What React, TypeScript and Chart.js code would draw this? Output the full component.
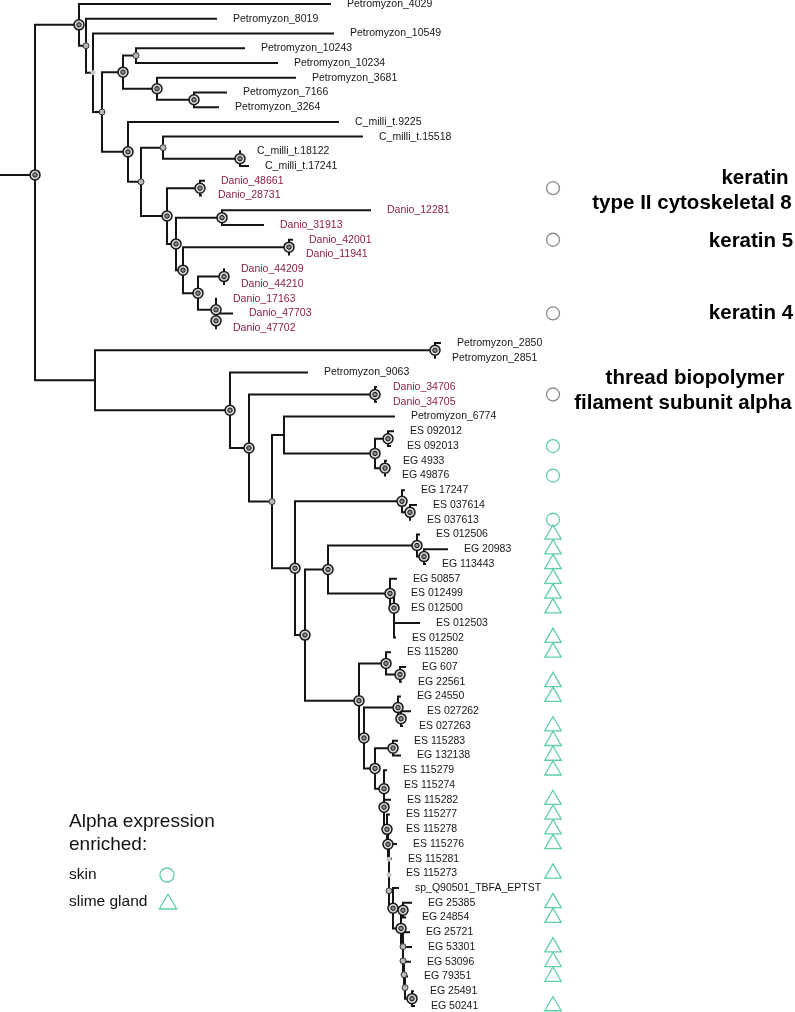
import { useEffect, useRef } from 'react';
import { Chart, registerables } from 'chart.js';
Chart.register(...registerables);

// ---- leaves (top to bottom) ----
const LEAF_NAMES = [
  'Petromyzon_4029', 'Petromyzon_8019', 'Petromyzon_10549', 'Petromyzon_10243', 'Petromyzon_10234',
  'Petromyzon_3681', 'Petromyzon_7166', 'Petromyzon_3264', 'C_milli_t.9225', 'C_milli_t.15518',
  'C_milli_t.18122', 'C_milli_t.17241', 'Danio_48661', 'Danio_28731', 'Danio_12281',
  'Danio_31913', 'Danio_42001', 'Danio_11941', 'Danio_44209', 'Danio_44210',
  'Danio_17163', 'Danio_47703', 'Danio_47702', 'Petromyzon_2850', 'Petromyzon_2851',
  'Petromyzon_9063', 'Danio_34706', 'Danio_34705', 'Petromyzon_6774', 'ES 092012',
  'ES 092013', 'EG 4933', 'EG 49876', 'EG 17247', 'ES 037614',
  'ES 037613', 'ES 012506', 'EG 20983', 'EG 113443', 'EG 50857',
  'ES 012499', 'ES 012500', 'ES 012503', 'ES 012502', 'ES 115280',
  'EG 607', 'EG 22561', 'EG 24550', 'ES 027262', 'ES 027263',
  'ES 115283', 'EG 132138', 'ES 115279', 'ES 115274', 'ES 115282',
  'ES 115277', 'ES 115278', 'ES 115276', 'ES 115281', 'ES 115273',
  'sp_Q90501_TBFA_EPTST', 'EG 25385', 'EG 24854', 'EG 25721', 'EG 53301',
  'EG 53096', 'EG 79351', 'EG 25491', 'EG 50241',
];

// tip depth (branch end) of every leaf
const LEAF_X = [
  330, 216, 333, 244, 277, 295, 226, 218, 338, 362,
  240, 248, 204, 201, 370, 263, 292, 289, 224, 224,
  216, 232, 216, 440, 435, 307, 376, 376, 394, 393,
  390, 386, 385, 404, 416, 410, 419, 447, 425, 396,
  394, 394, 419, 395, 390, 405, 401, 400, 410, 402,
  397, 400, 386, 387, 390, 389, 389, 396, 391, 389,
  398, 411, 405, 409, 411, 410, 407, 413, 414,
];

// ---- internal nodes ----
const NODE_X = [
  35, 79, 86, 93, 102, 123, 136, 157, 194, 128,
  141, 163, 240, 167, 200, 176, 222, 183, 289, 198,
  224, 216, 216, 95, 435, 230, 249, 375, 272, 284,
  375, 388, 385, 295, 402, 410, 305, 328, 417, 424,
  390, 394, 394, 359, 386, 400, 364, 398, 401, 375,
  393, 384, 384, 387, 388, 389, 389, 389, 393, 401,
  403, 403, 403, 404, 405, 412,
];

// children: "L#" = leaf, "#" = internal node
const NODE_KIDS = [
  '1 23', 'L0 2', 'L1 3', 'L2 4', '5 9', '6 7', 'L3 L4', 'L5 8', 'L6 L7', 'L8 10',
  '11 13', 'L9 12', 'L10 L11', '14 15', 'L12 L13', '16 17', 'L14 L15', '18 19', 'L16 L17', '20 21',
  'L18 L19', 'L20 22', 'L21 L22', '24 25', 'L23 L24', 'L25 26', '27 28', 'L26 L27', '29 33', 'L28 30',
  '31 32', 'L29 L30', 'L31 L32', '34 36', 'L33 35', 'L34 L35', '37 43', '38 40', 'L36 39', 'L37 L38',
  'L39 41', 'L40 42', 'L41 L42 L43', '44 46', 'L44 45', 'L45 L46', '47 49', 'L47 48', 'L48 L49', '50 51',
  'L50 L51', 'L52 52', 'L53 L54 53', 'L55 54', 'L56 55', 'L57 56', 'L58 57', 'L59 58', 'L60 59', '60 61',
  'L61 L62', 'L63 62', 'L64 63', 'L65 64', 'L66 65', 'L67 L68',
];

// node support marker: B = strong (double ring), S = small dot, G = faint dot, - = none
const NODE_MARK = [
  'B', 'B', 'S', 'G', 'S', 'B', 'S', 'B', 'B', 'B',
  'S', 'S', 'B', 'B', 'B', 'B', 'B', 'B', 'B', 'B',
  'B', 'B', 'B', '-', 'B', 'B', 'B', 'B', 'S', '-',
  'B', 'B', 'B', 'B', 'B', 'B', 'B', 'B', 'B', 'B',
  'B', 'B', '-', 'B', 'B', 'B', 'B', 'B', 'B', 'B',
  'B', 'B', 'B', 'B', 'B', 'G', 'G', 'S', 'B', 'B',
  'B', 'S', 'S', 'S', 'S', 'B',
];

const ROOT_Y = 11.6; // root drawn in leaf-row units
const ROOT_STEM_X = 0;

// ---- right-hand marker column ----
const MARK_COLUMN_X = 553;
const KERATIN_ROWS = [12.5, 16, 21, 26.5];
const SKIN_ROWS = [30, 32, 35];
const GLAND_ROWS = [36, 37, 38, 39, 40, 41, 43, 44, 46, 47, 49, 50, 51, 52, 54, 55, 56, 57, 59, 61, 62, 64, 65, 66, 68];

const ANNOTATION_LINES = ['keratin', 'type II cytoskeletal 8', 'keratin 5', 'keratin 4', 'thread biopolymer', 'filament subunit alpha'];
const LEGEND_TITLE = ['Alpha expression', 'enriched:'];
const LEGEND_ITEMS = ['skin', 'slime gland'];

const GREEN = '#5fcfaa';
const DANIO_RED = '#8e1f45';
const FONT = '"Liberation Sans", Arial, Helvetica, sans-serif';

function buildTree() {
  const kids = NODE_KIDS.map((s) =>
    s.split(' ').map((t) => (t[0] === 'L' ? { leaf: +t.slice(1) } : { node: +t }))
  );
  const nodeY: number[] = new Array(NODE_X.length);
  const yOf = (r: any): number => (r.leaf !== undefined ? r.leaf : calc(r.node));
  const calc = (i: number): number => {
    if (nodeY[i] !== undefined) return nodeY[i];
    const ys = kids[i].map(yOf);
    nodeY[i] = (ys[0] + ys[ys.length - 1]) / 2;
    return nodeY[i];
  };
  calc(0);
  nodeY[0] = ROOT_Y;
  const xOf = (r: any) => (r.leaf !== undefined ? LEAF_X[r.leaf] : NODE_X[r.node]);
  const seg: any[] = [];
  const gap = { x: null, y: null };
  seg.push({ x: ROOT_STEM_X, y: ROOT_Y }, { x: NODE_X[0], y: ROOT_Y }, gap);
  kids.forEach((ks, i) => {
    const ys = ks.map(yOf);
    seg.push({ x: NODE_X[i], y: ys[0] }, { x: NODE_X[i], y: ys[ys.length - 1] }, gap);
    ks.forEach((k, j) => {
      seg.push({ x: NODE_X[i], y: ys[j] }, { x: xOf(k), y: ys[j] }, gap);
    });
  });
  const pts = (m: string) =>
    NODE_X.map((x, i) => ({ x, y: nodeY[i], m: NODE_MARK[i] })).filter((p) => p.m === m).map((p) => ({ x: p.x, y: p.y }));
  return { seg, big: pts('B'), small: pts('S'), faint: pts('G') };
}

const textPlugin = {
  id: 'treeText',
  afterDatasetsDraw(chart: any) {
    const { ctx } = chart;
    const xs = chart.scales.x;
    const ys = chart.scales.y;
    ctx.save();
    ctx.textBaseline = 'middle';
    ctx.textAlign = 'left';
    ctx.font = `10.5px ${FONT}`;
    LEAF_NAMES.forEach((n, i) => {
      ctx.fillStyle = n.startsWith('Danio') ? DANIO_RED : '#161616';
      ctx.fillText(n, xs.getPixelForValue(LEAF_X[i]) + 17, ys.getPixelForValue(i));
    });
    // annotations
    ctx.fillStyle = '#000';
    ctx.font = `bold 20.5px ${FONT}`;
    ctx.textAlign = 'center';
    const annPos = [[755, 178], [692, 203], [751, 241], [751, 313], [695, 378], [683, 403]];
    ANNOTATION_LINES.forEach((t, i) => ctx.fillText(t, annPos[i][0], annPos[i][1]));
    // legend
    ctx.textAlign = 'left';
    ctx.fillStyle = '#111';
    ctx.font = `19px ${FONT}`;
    ctx.fillText(LEGEND_TITLE[0], 69, 822);
    ctx.fillText(LEGEND_TITLE[1], 69, 845);
    ctx.font = `15.5px ${FONT}`;
    ctx.fillText(LEGEND_ITEMS[0], 69, 875);
    ctx.fillText(LEGEND_ITEMS[1], 69, 902);
    ctx.strokeStyle = GREEN;
    ctx.lineWidth = 1.3;
    ctx.beginPath();
    ctx.arc(167, 875, 7, 0, Math.PI * 2);
    ctx.stroke();
    const r = 10;
    const cx = 168, cy = 904;
    ctx.beginPath();
    ctx.moveTo(cx, cy - r);
    ctx.lineTo(cx + r * 0.866, cy + r / 2);
    ctx.lineTo(cx - r * 0.866, cy + r / 2);
    ctx.closePath();
    ctx.stroke();
    ctx.restore();
  },
};

export default function App() {
  const ref = useRef<HTMLCanvasElement>(null);
  useEffect(() => {
    document.body.style.margin = '0';
    const t = buildTree();
    const col = (rows: number[]) => rows.map((y) => ({ x: MARK_COLUMN_X, y }));
    const chart = new Chart(ref.current!, {
      type: 'scatter',
      data: {
        datasets: [
          {
            data: t.seg,
            showLine: true,
            spanGaps: false,
            pointRadius: 0,
            borderColor: '#141414',
            borderWidth: 2,
            borderCapStyle: 'square',
            order: 10,
            clip: false,
          } as any,
          { data: t.big, pointRadius: 5, backgroundColor: '#d6d6d6', borderColor: '#151515', borderWidth: 1.5, order: 3, clip: false },
          { data: t.big, pointRadius: 2.2, backgroundColor: '#8c8c8c', borderColor: '#151515', borderWidth: 1, order: 2, clip: false },
          { data: t.small, pointRadius: 3, backgroundColor: '#b8b8b8', borderColor: '#333', borderWidth: 1, order: 2, clip: false },
          { data: t.faint, pointRadius: 2.5, backgroundColor: '#c6c6c6', borderColor: '#c6c6c6', borderWidth: 0, order: 2, clip: false },
          { data: col(KERATIN_ROWS), pointRadius: 6.5, backgroundColor: 'rgba(0,0,0,0)', borderColor: '#8a8a8a', borderWidth: 1.3, clip: false },
          { data: col(SKIN_ROWS), pointRadius: 6.5, backgroundColor: 'rgba(0,0,0,0)', borderColor: GREEN, borderWidth: 1.3, clip: false },
          { data: col(GLAND_ROWS), pointStyle: 'triangle', pointRadius: 9.5, backgroundColor: 'rgba(0,0,0,0)', borderColor: GREEN, borderWidth: 1.3, clip: false },
        ],
      } as any,
      options: {
        responsive: false,
        animation: false,
        events: [],
        layout: { padding: 0, autoPadding: false },
        plugins: { legend: { display: false }, tooltip: { enabled: false } },
        scales: {
          x: { type: 'linear', min: 0, max: 795, display: false },
          y: { type: 'linear', min: -0.2715, max: 68.407, reverse: true, display: false },
        },
      } as any,
      plugins: [textPlugin],
    });
    return () => chart.destroy();
  }, []);
  return <canvas ref={ref} width={795} height={1012} style={{ display: 'block' }} />;
}
